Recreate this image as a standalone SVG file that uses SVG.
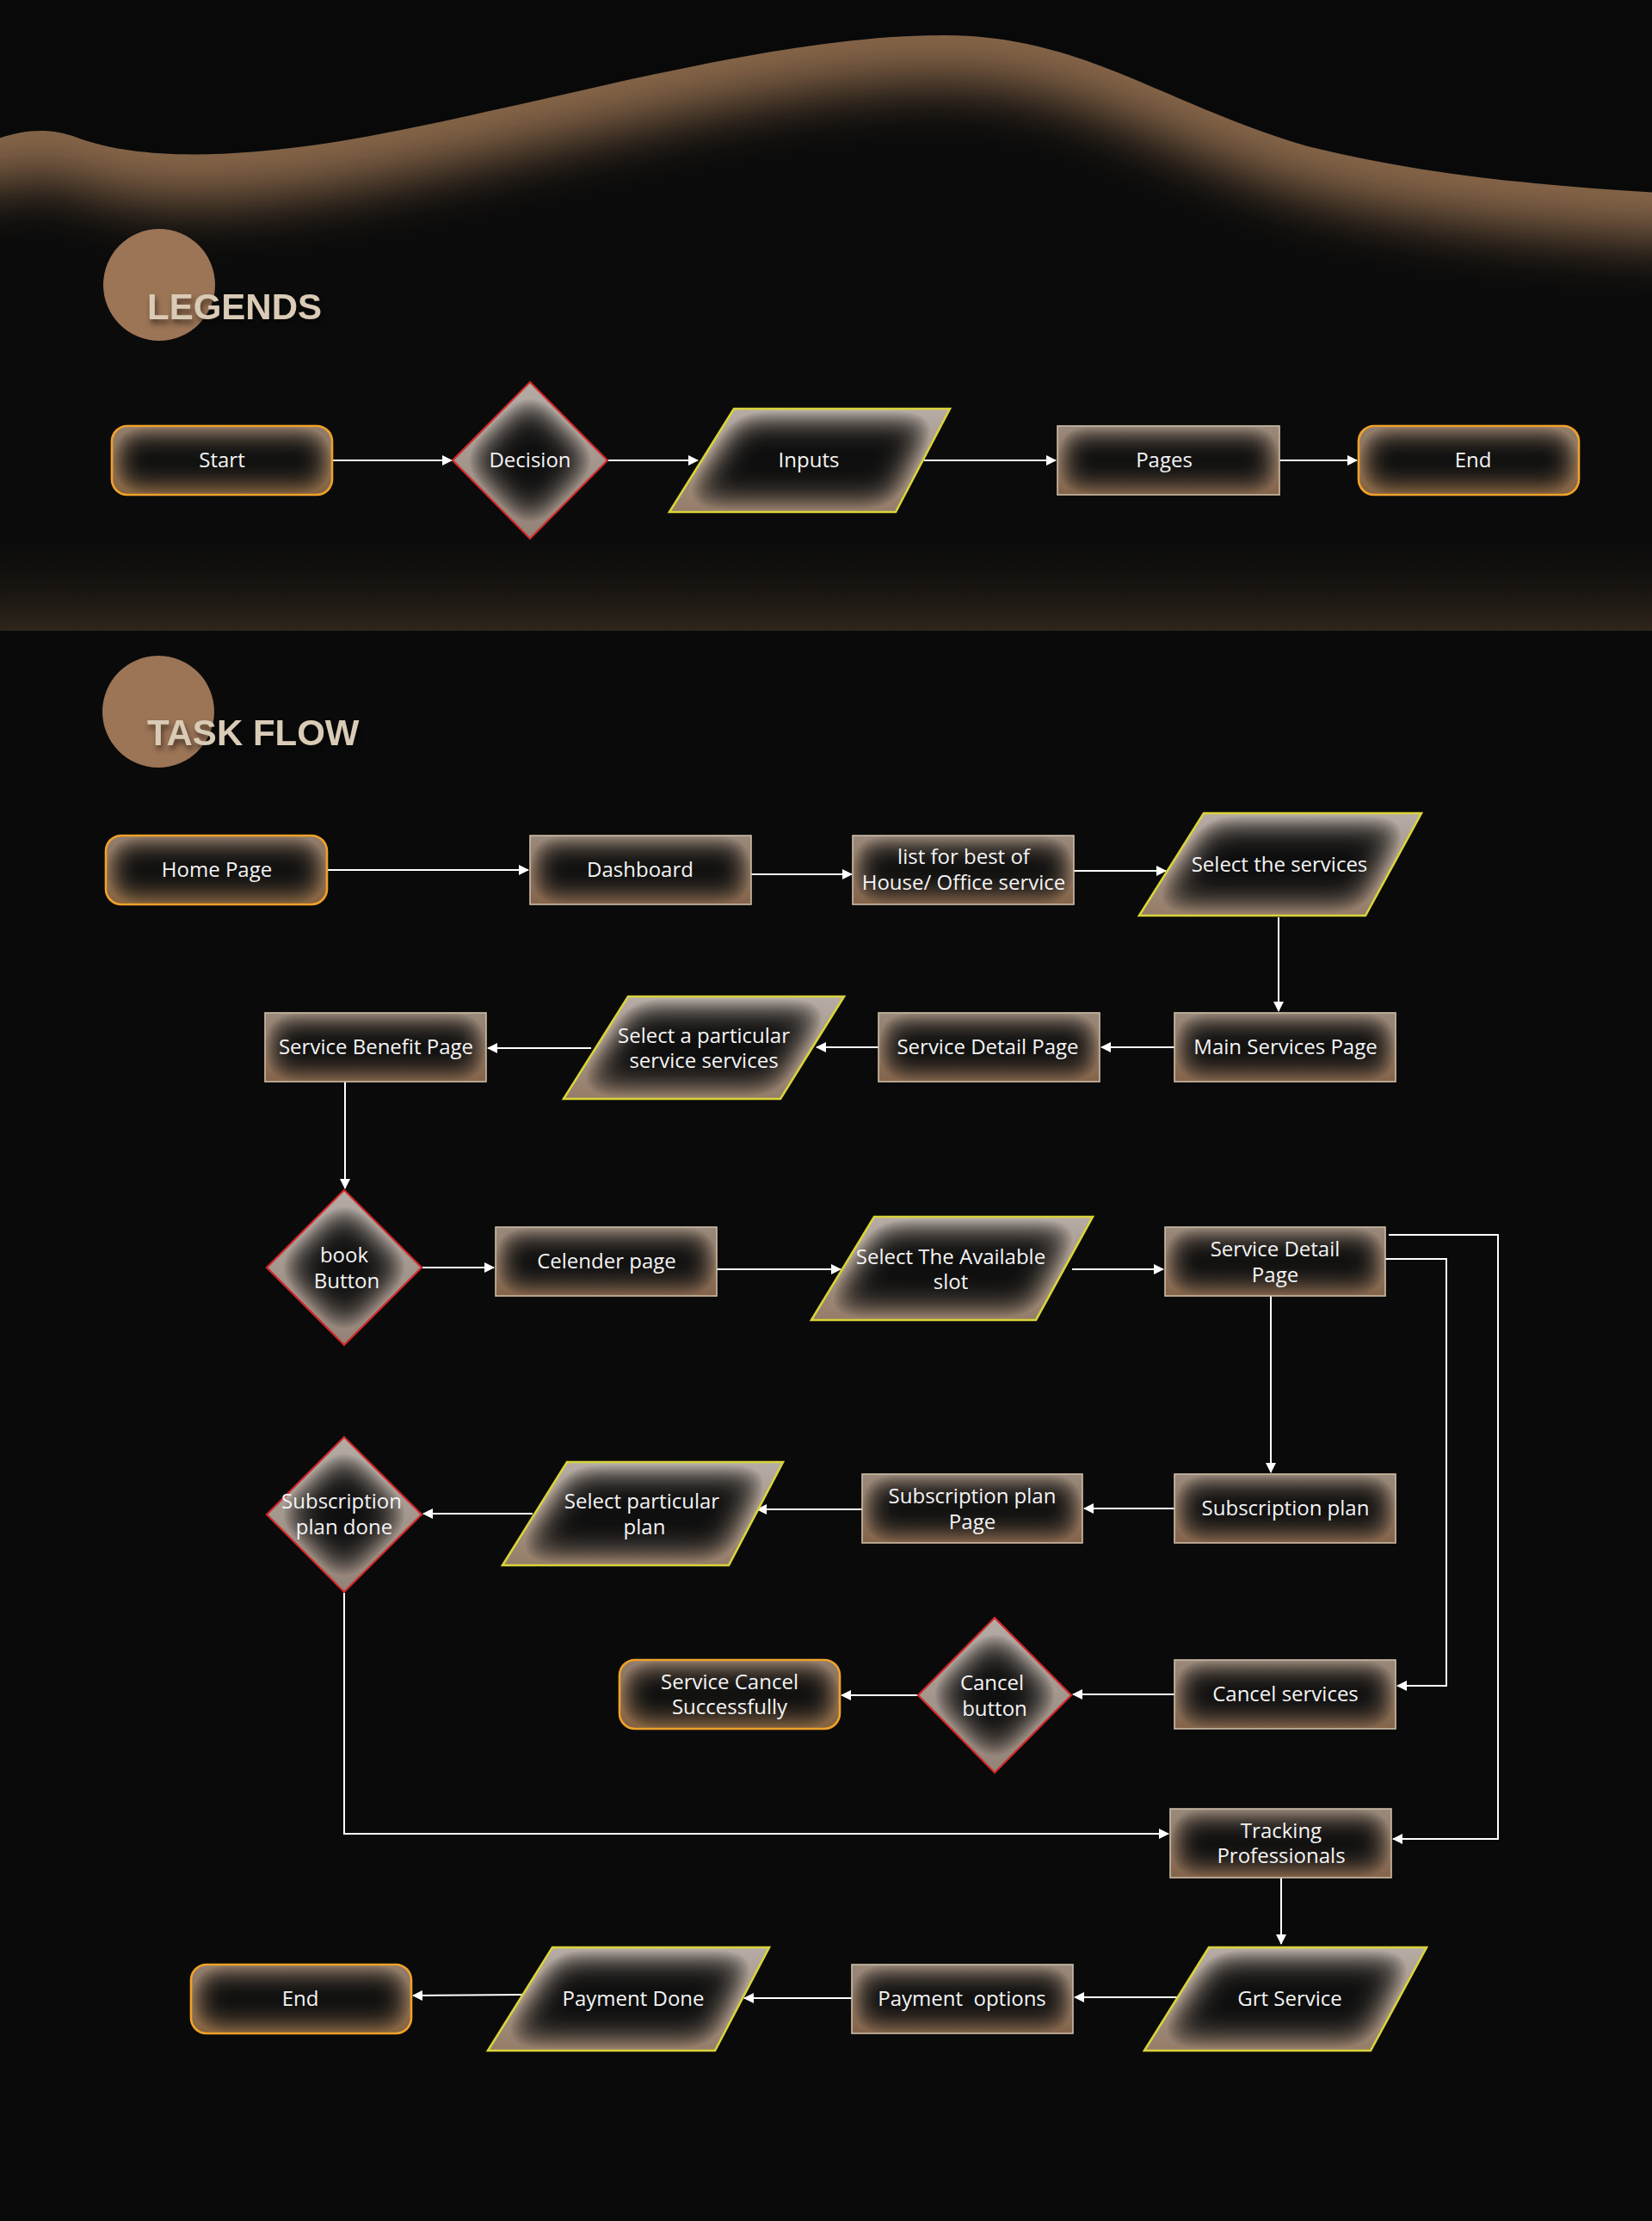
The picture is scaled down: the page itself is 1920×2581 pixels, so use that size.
<svg xmlns="http://www.w3.org/2000/svg" width="1920" height="2581" viewBox="0 0 1920 2581">
<defs>
<style>
.t{font-family:"Open Sans","Liberation Sans",sans-serif;font-size:24px;fill:#f4f4f4;text-anchor:middle}
.h{font-family:"Liberation Sans",Arial,sans-serif;font-size:42px;font-weight:bold;fill:#d9cbb6}
.fR{fill:url(#gdR);filter:url(#ig)}
.fT{fill:url(#gdT);filter:url(#ig)}
.fD{fill:url(#gdD);filter:url(#ig2)}
.fP{fill:url(#gdP);filter:url(#ig2)}
.sR{fill:none;stroke:#cdbca7;stroke-width:1.6}
.sT{fill:none;stroke:#f0a12a;stroke-width:2.6}
.sD{fill:none;stroke:#d2282a;stroke-width:2.2}
.sP{fill:none;stroke:#d9d43a;stroke-width:2.6}
.c{fill:none;stroke:#ffffff;stroke-width:2;marker-end:url(#ah)}
</style>
<marker id="ah" markerUnits="userSpaceOnUse" markerWidth="12" markerHeight="12" refX="11" refY="6" orient="auto">
<path d="M0,0 L12,6 L0,12 z" fill="#ffffff"/>
</marker>
<linearGradient id="gdR" x1="0" y1="0" x2="0" y2="1"><stop offset="0" stop-color="#9a8a7c"/><stop offset="1" stop-color="#84644a"/></linearGradient>
<linearGradient id="gdT" x1="0" y1="0" x2="0" y2="1"><stop offset="0" stop-color="#927e6e"/><stop offset="1" stop-color="#85633f"/></linearGradient>
<linearGradient id="gdD" x1="0" y1="0" x2="0" y2="1"><stop offset="0" stop-color="#b4aca6"/><stop offset="1" stop-color="#938276"/></linearGradient>
<linearGradient id="gdP" x1="0" y1="0" x2="0" y2="1"><stop offset="0" stop-color="#b6ada6"/><stop offset="1" stop-color="#947c68"/></linearGradient>
<filter id="ig" x="-10%" y="-15%" width="120%" height="130%" color-interpolation-filters="sRGB">
<feGaussianBlur in="SourceAlpha" stdDeviation="18" result="b"/>
<feComposite in="SourceAlpha" in2="b" operator="arithmetic" k2="2" k3="-2" result="e"/>
<feComposite in="SourceGraphic" in2="e" operator="in" result="g"/>
<feFlood flood-color="#0f0f0f" result="d"/>
<feComposite in="d" in2="SourceAlpha" operator="in" result="dd"/>
<feMerge><feMergeNode in="dd"/><feMergeNode in="g"/></feMerge>
</filter>
<filter id="ig2" x="-10%" y="-10%" width="120%" height="120%" color-interpolation-filters="sRGB">
<feGaussianBlur in="SourceAlpha" stdDeviation="22" result="b"/>
<feComposite in="SourceAlpha" in2="b" operator="arithmetic" k2="2.2" k3="-2.2" result="e"/>
<feComposite in="SourceGraphic" in2="e" operator="in" result="g"/>
<feFlood flood-color="#0f0f0f" result="d"/>
<feComposite in="d" in2="SourceAlpha" operator="in" result="dd"/>
<feMerge><feMergeNode in="dd"/><feMergeNode in="g"/></feMerge>
</filter>
<filter id="blurW" x="-20%" y="-30%" width="140%" height="160%" color-interpolation-filters="sRGB">
<feGaussianBlur stdDeviation="32"/>
</filter>
<filter id="sh" x="-10%" y="-20%" width="120%" height="150%" color-interpolation-filters="sRGB">
<feDropShadow dx="2" dy="5" stdDeviation="3" flood-color="#000000" flood-opacity="0.5"/>
</filter>
<linearGradient id="bot" x1="0" y1="0" x2="0" y2="1">
<stop offset="0" stop-color="#0b0b0b" stop-opacity="0"/>
<stop offset="1" stop-color="#30261b"/>
</linearGradient>
<clipPath id="topClip"><rect x="0" y="0" width="1920" height="733"/></clipPath>
</defs>

<rect x="0" y="0" width="1920" height="2581" fill="#0a0a0a"/>

<g id="header-bg" clip-path="url(#topClip)">
<path d="M-10,164 C20,152 55,146 90,160 C170,190 300,182 430,158 C660,115 900,40 1100,41 C1260,42 1350,120 1520,170 C1660,205 1800,216 1930,224 L1930,760 L-10,760 Z" fill="#876649"/>
<path transform="translate(0,55)" d="M-300,164 L-10,164 C20,152 55,146 90,160 C170,190 300,182 430,158 C660,115 900,40 1100,41 C1260,42 1350,120 1520,170 C1660,205 1800,216 1930,224 L2200,224 L2200,900 L-300,900 Z" fill="#0b0b0b" filter="url(#blurW)"/>
<rect x="0" y="610" width="1920" height="123" fill="url(#bot)"/>
</g>

<g id="legends-title">
<circle cx="185" cy="331" r="65" fill="#9c7456"/>
<text class="h" x="171" y="371" filter="url(#sh)">LEGENDS</text>
</g>
<g id="taskflow-title">
<circle cx="184" cy="827" r="65" fill="#9c7456"/>
<text class="h" x="171" y="866" filter="url(#sh)">TASK FLOW</text>
</g>

<g id="connectors">
<path class="c" d="M386,535 H525"/>
<path class="c" d="M706,535 H811"/>
<path class="c" d="M1074,535 H1227"/>
<path class="c" d="M1487,535 H1577"/>
<path class="c" d="M381,1011 H614"/>
<path class="c" d="M873,1016 H990"/>
<path class="c" d="M1248,1012 H1355"/>
<path class="c" d="M1486,1066 V1175"/>
<path class="c" d="M1365,1217 H1280"/>
<path class="c" d="M1021,1217 H949"/>
<path class="c" d="M687,1218 H567"/>
<path class="c" d="M401,1257 V1381"/>
<path class="c" d="M491,1473 H574"/>
<path class="c" d="M833,1475 H977"/>
<path class="c" d="M1246,1475 H1352"/>
<path class="c" d="M1614,1435 H1741 V2137 H1619"/>
<path class="c" d="M1610,1463 H1681 V1959 H1624"/>
<path class="c" d="M1477,1506 V1711"/>
<path class="c" d="M1365,1753 H1260"/>
<path class="c" d="M1002,1754 H880"/>
<path class="c" d="M619,1759 H492"/>
<path class="c" d="M400,1851 V2131 H1358"/>
<path class="c" d="M1365,1969 H1247"/>
<path class="c" d="M1067,1970 H978"/>
<path class="c" d="M1489,2182 V2259"/>
<path class="c" d="M1369,2321 H1249"/>
<path class="c" d="M990,2322 H865"/>
<path class="c" d="M608,2318 L480,2319"/>
</g>

<g id="legend-start"><rect class="fT" x="130" y="495" width="256" height="80" rx="18"/><rect class="sT" x="130" y="495" width="256" height="80" rx="18"/><text class="t" x="258" y="543">Start</text></g>
<g id="legend-decision"><polygon class="fD" points="616,444 706,535 616,626 526,535"/><polygon class="sD" points="616,444 706,535 616,626 526,535"/><text class="t" x="616" y="543">Decision</text></g>
<g id="legend-inputs"><polygon class="fP" points="853,475 1104,475 1041,595 778,595"/><polygon class="sP" points="853,475 1104,475 1041,595 778,595"/><text class="t" x="940" y="543">Inputs</text></g>
<g id="legend-pages"><rect class="fR" x="1229" y="495" width="258" height="80"/><rect class="sR" x="1229" y="495" width="258" height="80"/><text class="t" x="1353" y="543">Pages</text></g>
<g id="legend-end"><rect class="fT" x="1579" y="495" width="256" height="80" rx="18"/><rect class="sT" x="1579" y="495" width="256" height="80" rx="18"/><text class="t" x="1712" y="543">End</text></g>

<g id="home-page"><rect class="fT" x="123" y="971" width="257" height="80" rx="18"/><rect class="sT" x="123" y="971" width="257" height="80" rx="18"/><text class="t" x="252" y="1019">Home Page</text></g>
<g id="dashboard"><rect class="fR" x="616" y="971" width="257" height="80"/><rect class="sR" x="616" y="971" width="257" height="80"/><text class="t" x="744" y="1019">Dashboard</text></g>
<g id="list-best"><rect class="fR" x="991" y="971" width="257" height="80"/><rect class="sR" x="991" y="971" width="257" height="80"/><text class="t" x="1120" y="1004">list for best of</text><text class="t" x="1120" y="1034">House/ Office service</text></g>
<g id="select-services"><polygon class="fP" points="1399,945 1652,945 1587,1064 1324,1064"/><polygon class="sP" points="1399,945 1652,945 1587,1064 1324,1064"/><text class="t" x="1487" y="1013">Select the services</text></g>

<g id="main-services"><rect class="fR" x="1365" y="1177" width="257" height="80"/><rect class="sR" x="1365" y="1177" width="257" height="80"/><text class="t" x="1494" y="1225">Main Services Page</text></g>
<g id="service-detail-1"><rect class="fR" x="1021" y="1177" width="257" height="80"/><rect class="sR" x="1021" y="1177" width="257" height="80"/><text class="t" x="1148" y="1225">Service Detail Page</text></g>
<g id="select-particular-service"><polygon class="fP" points="730,1158 981,1158 907,1277 655,1277"/><polygon class="sP" points="730,1158 981,1158 907,1277 655,1277"/><text class="t" x="818" y="1212">Select a particular</text><text class="t" x="818" y="1241">service services</text></g>
<g id="service-benefit"><rect class="fR" x="308" y="1177" width="257" height="80"/><rect class="sR" x="308" y="1177" width="257" height="80"/><text class="t" x="437" y="1225">Service Benefit Page</text></g>

<g id="book-button"><polygon class="fD" points="400,1383 490,1473 400,1563 310,1473"/><polygon class="sD" points="400,1383 490,1473 400,1563 310,1473"/><text class="t" x="400" y="1467">book</text><text class="t" x="403" y="1497">Button</text></g>
<g id="celender-page"><rect class="fR" x="576" y="1426" width="257" height="80"/><rect class="sR" x="576" y="1426" width="257" height="80"/><text class="t" x="705" y="1474">Celender page</text></g>
<g id="select-slot"><polygon class="fP" points="1016,1414 1270,1414 1204,1534 943,1534"/><polygon class="sP" points="1016,1414 1270,1414 1204,1534 943,1534"/><text class="t" x="1105" y="1469">Select The Available</text><text class="t" x="1105" y="1498">slot</text></g>
<g id="service-detail-2"><rect class="fR" x="1354" y="1426" width="256" height="80"/><rect class="sR" x="1354" y="1426" width="256" height="80"/><text class="t" x="1482" y="1460">Service Detail</text><text class="t" x="1482" y="1490">Page</text></g>

<g id="subscription-plan"><rect class="fR" x="1365" y="1713" width="257" height="80"/><rect class="sR" x="1365" y="1713" width="257" height="80"/><text class="t" x="1494" y="1761">Subscription plan</text></g>
<g id="subscription-plan-page"><rect class="fR" x="1002" y="1713" width="256" height="80"/><rect class="sR" x="1002" y="1713" width="256" height="80"/><text class="t" x="1130" y="1747">Subscription plan</text><text class="t" x="1130" y="1777">Page</text></g>
<g id="select-plan"><polygon class="fP" points="659,1699 910,1699 847,1819 584,1819"/><polygon class="sP" points="659,1699 910,1699 847,1819 584,1819"/><text class="t" x="746" y="1753">Select particular</text><text class="t" x="749" y="1783">plan</text></g>
<g id="subscription-done"><polygon class="fD" points="400,1670 490,1760 400,1850 310,1760"/><polygon class="sD" points="400,1670 490,1760 400,1850 310,1760"/><text class="t" x="397" y="1753">Subscription</text><text class="t" x="400" y="1783">plan done</text></g>

<g id="cancel-services"><rect class="fR" x="1365" y="1929" width="257" height="80"/><rect class="sR" x="1365" y="1929" width="257" height="80"/><text class="t" x="1494" y="1977">Cancel services</text></g>
<g id="cancel-button"><polygon class="fD" points="1156,1880 1245,1970 1156,2060 1067,1970"/><polygon class="sD" points="1156,1880 1245,1970 1156,2060 1067,1970"/><text class="t" x="1153" y="1964">Cancel</text><text class="t" x="1156" y="1994">button</text></g>
<g id="service-cancel-success"><rect class="fT" x="720" y="1929" width="256" height="80" rx="18"/><rect class="sT" x="720" y="1929" width="256" height="80" rx="18"/><text class="t" x="848" y="1963">Service Cancel</text><text class="t" x="848" y="1992">Successfully</text></g>

<g id="tracking"><rect class="fR" x="1360" y="2102" width="257" height="80"/><rect class="sR" x="1360" y="2102" width="257" height="80"/><text class="t" x="1489" y="2136">Tracking</text><text class="t" x="1489" y="2165">Professionals</text></g>

<g id="grt-service"><polygon class="fP" points="1405,2263 1658,2263 1593,2383 1330,2383"/><polygon class="sP" points="1405,2263 1658,2263 1593,2383 1330,2383"/><text class="t" x="1499" y="2331">Grt Service</text></g>
<g id="payment-options"><rect class="fR" x="990" y="2283" width="257" height="80"/><rect class="sR" x="990" y="2283" width="257" height="80"/><text class="t" x="1118" y="2331" xml:space="preserve">Payment  options</text></g>
<g id="payment-done"><polygon class="fP" points="642,2263 894,2263 831,2383 567,2383"/><polygon class="sP" points="642,2263 894,2263 831,2383 567,2383"/><text class="t" x="736" y="2331">Payment Done</text></g>
<g id="end"><rect class="fT" x="222" y="2283" width="256" height="80" rx="18"/><rect class="sT" x="222" y="2283" width="256" height="80" rx="18"/><text class="t" x="349" y="2331">End</text></g>
</svg>
